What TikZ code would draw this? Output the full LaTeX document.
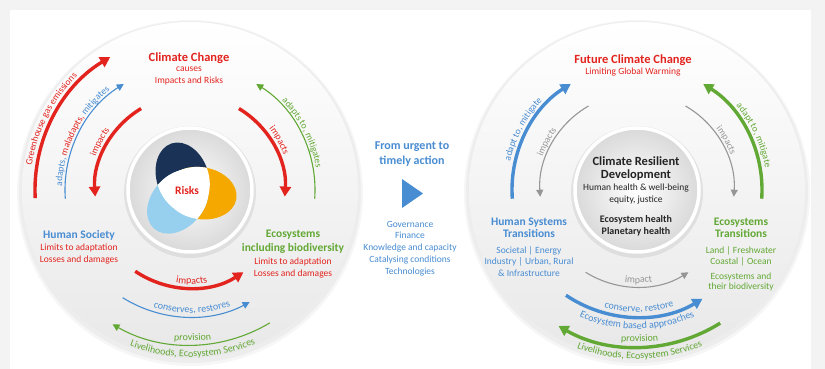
\documentclass[tikz,border=0pt]{standalone}
\usepackage{fontspec}
\setmainfont{Carlito}
\usetikzlibrary{positioning}
\usetikzlibrary{arrows.meta}
\usetikzlibrary{decorations.text}
\usetikzlibrary{shadings}

\definecolor{ipccred}{RGB}{226,35,30}
\definecolor{ipccblue}{RGB}{72,140,210}
\definecolor{ipccgreen}{RGB}{98,168,52}
\definecolor{ipccgray}{RGB}{150,150,150}
\definecolor{ipccnavy}{RGB}{26,50,86}
\definecolor{ipccorange}{RGB}{244,168,0}
\definecolor{ipccsky}{RGB}{150,208,238}
\definecolor{panelgray}{RGB}{243,243,243}
\definecolor{inktext}{RGB}{35,35,35}

\newcommand{\arcfont}{\fontsize{9.5}{9.5}\selectfont}
\newcommand{\lowfont}{\fontsize{10}{10}\selectfont}

\tikzstyle{thickarc} = [line width=3.4pt, -{Triangle[length=10pt,width=11pt]}]
\tikzstyle{thinarc} = [line width=1.1pt, -{Triangle[length=7pt,width=7pt]}]
\tikzstyle{arclabel} = [decorate, decoration={text along path, text align=center}]
\tikzstyle{bigtitle} = [font=\fontsize{12.5}{13}\selectfont\bfseries, inner sep=0pt, align=center]
\tikzstyle{sidetitle} = [font=\fontsize{11.5}{13}\selectfont\bfseries, inner sep=0pt, align=center]
\tikzstyle{smalltext} = [font=\fontsize{9.5}{11.5}\selectfont, inner sep=0pt, align=center]

\begin{document}
\begin{tikzpicture}[x=1pt, y=1pt]

  \useasboundingbox (0,0) rectangle (825,369);
  \fill[panelgray] (0,0) rectangle (825,369);
  \fill[white] (10,0) rectangle (811,359);

  \coordinate (L) at (190,179);
  \coordinate (R) at (637,179);
  \coordinate (venn) at (187,178);

  % the two big discs and their inner circles
  \foreach \name/\cx in {left/190, right/637} {
    \fill[black, opacity=0.035] (\cx,176) circle[radius=173pt];
    \fill[black, opacity=0.035] (\cx,177) circle[radius=171pt];
    \shade[top color=white, bottom color=black!9] (\cx,179) circle[radius=168pt];
    \fill[black, opacity=0.07] (\cx,177) circle[radius=66pt];
    \shade[inner color=white, outer color=black!15] (\cx,179) circle[radius=63pt];
    \draw[white, line width=3.5pt] (\cx,179) circle[radius=62pt];
  }

  % Risks
  \begin{scope}[shift={(venn)}]
    \foreach \ang/\col in {108/ipccnavy, -9/ipccorange, 229/ipccsky}
      \fill[\col, rotate=\ang] (14,0) ellipse[x radius=36pt, y radius=26pt];
    \foreach \angA/\angB in {108/-9, -9/229, 229/108} {
      \begin{scope}
        \clip[rotate=\angA] (14,0) ellipse[x radius=36pt, y radius=26pt];
        \fill[white, rotate=\angB] (14,0) ellipse[x radius=36pt, y radius=26pt];
      \end{scope}
    }
  \end{scope}
  \node[sidetitle, text=ipccred] (risks) at (venn) {Risks};

  % left disc: arcs
  \draw[thickarc, ipccred] ([shift={(183:155pt)}]L) arc[start angle=183, end angle=121, radius=155pt];
  \draw[thinarc, ipccblue] ([shift={(184:125pt)}]L) arc[start angle=184, end angle=122, radius=125pt];
  \draw[thickarc, ipccred] ([shift={(121:95pt)}]L) arc[start angle=121, end angle=184, radius=95pt];
  \draw[thickarc, ipccred] ([shift={(59:95pt)}]L) arc[start angle=59, end angle=-4, radius=95pt];
  \draw[thinarc, ipccgreen] ([shift={(-4:125pt)}]L) arc[start angle=-4, end angle=58, radius=125pt];
  \draw[thickarc, ipccred] ([shift={(236:98pt)}]L) arc[start angle=236, end angle=303, radius=98pt];
  \draw[thinarc, ipccblue] ([shift={(238:127pt)}]L) arc[start angle=238, end angle=298, radius=127pt];
  \draw[thinarc, ipccgreen] ([shift={(301:155pt)}]L) arc[start angle=301, end angle=240, radius=155pt];

  % left disc: arc labels
  \path[arclabel, decoration={text={|\arcfont|Greenhouse gas emissions}, text color=ipccred}] ([shift={(178:160pt)}]L) arc[start angle=178, end angle=128, radius=160pt];
  \path[arclabel, decoration={text={|\arcfont\color{ipccblue}|adapts, |\arcfont\color{ipccred}|maladapts, |\arcfont\color{ipccblue}|mitigates}}] ([shift={(183:128pt)}]L) arc[start angle=183, end angle=124, radius=128pt];
  \path[arclabel, decoration={text={|\arcfont|impacts}, text color=ipccred}] ([shift={(172:100pt)}]L) arc[start angle=172, end angle=132, radius=100pt];
  \path[arclabel, decoration={text={|\arcfont|impacts}, text color=ipccred}] ([shift={(46:100pt)}]L) arc[start angle=46, end angle=12, radius=100pt];
  \path[arclabel, decoration={text={|\arcfont|adapts to, mitigates}, text color=ipccgreen}] ([shift={(52:128pt)}]L) arc[start angle=52, end angle=2, radius=128pt];
  \path[arclabel, decoration={text={|\lowfont|impacts}, text color=ipccred}] ([shift={(252:94pt)}]L) arc[start angle=252, end angle=290, radius=94pt];
  \path[arclabel, decoration={text={|\lowfont|conserves, restores}, text color=ipccblue}] ([shift={(243:123pt)}]L) arc[start angle=243, end angle=299, radius=123pt];
  \path[arclabel, decoration={text={|\lowfont|provision}, text color=ipccgreen}] ([shift={(258:151pt)}]L) arc[start angle=258, end angle=284, radius=151pt];
  \path[arclabel, decoration={text={|\lowfont|Livelihoods, Ecosystem Services}, text color=ipccgreen}] ([shift={(236:167pt)}]L) arc[start angle=236, end angle=306, radius=167pt];

  % left disc: texts
  \node[bigtitle, text=ipccred] (cc) at (189,311) {Climate Change};
  \node[smalltext, text=ipccred] (ccsub) at (189,293) {causes\\Impacts and Risks};
  \node[sidetitle, text=ipccblue] (society) at (79,134) {Human Society};
  \node[smalltext, text=ipccred] (societysub) at (79,115) {Limits to adaptation\\Losses and damages};
  \node[sidetitle, text=ipccgreen, font=\fontsize{11.5}{14}\selectfont\bfseries] (eco) at (293,127) {Ecosystems\\including biodiversity};
  \node[smalltext, text=ipccred] (ecosub) at (293,101) {Limits to adaptation\\Losses and damages};

  % middle
  \node[bigtitle, text=ipccblue, font=\fontsize{12}{15}\selectfont\bfseries] (urgent) at (412,214.5) {From urgent to\\timely action};
  \fill[ipccblue] (402,190) -- (402,161) -- (423,175.5) -- cycle;
  \node[smalltext, text=ipccblue, font=\fontsize{9.5}{11.8}\selectfont] (enablers) at (410,120.5) {Governance\\Finance\\Knowledge and capacity\\Catalysing conditions\\Technologies};

  % right disc: arcs
  \draw[thickarc, ipccblue] ([shift={(184:125pt)}]R) arc[start angle=184, end angle=122, radius=125pt];
  \draw[thinarc, ipccgray] ([shift={(120:97pt)}]R) arc[start angle=120, end angle=184, radius=97pt];
  \draw[thinarc, ipccgray] ([shift={(60:97pt)}]R) arc[start angle=60, end angle=-4, radius=97pt];
  \draw[thickarc, ipccgreen] ([shift={(-4:125pt)}]R) arc[start angle=-4, end angle=58, radius=125pt];
  \draw[thinarc, ipccgray] ([shift={(238:97pt)}]R) arc[start angle=238, end angle=302, radius=97pt];
  \draw[thickarc, ipccblue] ([shift={(236:127pt)}]R) arc[start angle=236, end angle=301, radius=127pt];
  \draw[thickarc, ipccgreen] ([shift={(302:157pt)}]R) arc[start angle=302, end angle=240, radius=157pt];

  % right disc: arc labels
  \path[arclabel, decoration={text={|\arcfont|adapt to, mitigate}, text color=ipccblue}] ([shift={(172:130pt)}]R) arc[start angle=172, end angle=132, radius=130pt];
  \path[arclabel, decoration={text={|\arcfont|impacts}, text color=ipccgray}] ([shift={(170:100pt)}]R) arc[start angle=170, end angle=134, radius=100pt];
  \path[arclabel, decoration={text={|\arcfont|impacts}, text color=ipccgray}] ([shift={(46:100pt)}]R) arc[start angle=46, end angle=12, radius=100pt];
  \path[arclabel, decoration={text={|\arcfont|adapt to, mitigate}, text color=ipccgreen}] ([shift={(46:130pt)}]R) arc[start angle=46, end angle=4, radius=130pt];
  \path[arclabel, decoration={text={|\lowfont|impact}, text color=ipccgray}] ([shift={(258:93pt)}]R) arc[start angle=258, end angle=284, radius=93pt];
  \path[arclabel, decoration={text={|\lowfont|conserve, restore}, text color=ipccblue}] ([shift={(248:122pt)}]R) arc[start angle=248, end angle=294, radius=122pt];
  \path[arclabel, decoration={text={|\lowfont|Ecosystem based approaches}, text color=ipccblue}] ([shift={(236:139pt)}]R) arc[start angle=236, end angle=304, radius=139pt];
  \path[arclabel, decoration={text={|\lowfont|provision}, text color=ipccgreen}] ([shift={(258:152pt)}]R) arc[start angle=258, end angle=284, radius=152pt];
  \path[arclabel, decoration={text={|\lowfont|Livelihoods, Ecosystem Services}, text color=ipccgreen}] ([shift={(236:169pt)}]R) arc[start angle=236, end angle=306, radius=169pt];

  % right disc: texts
  \node[bigtitle, text=ipccred] (fcc) at (633,309) {Future Climate Change};
  \node[smalltext, text=ipccred] (fccsub) at (633,297) {Limiting Global Warming};
  \node[sidetitle, text=ipccblue, font=\fontsize{11.5}{12}\selectfont\bfseries] (hst) at (529,141.5) {Human Systems\\Transitions};
  \node[smalltext, text=ipccblue] (hstsub) at (529,107.5) {Societal | Energy\\Industry | Urban, Rural\\\& Infrastructure};
  \node[sidetitle, text=ipccgreen, font=\fontsize{11.5}{12}\selectfont\bfseries] (est) at (741,141) {Ecosystems\\Transitions};
  \node[smalltext, text=ipccgreen, font=\fontsize{9.5}{11}\selectfont] (estsub) at (741,112.5) {Land | Freshwater\\Coastal | Ocean};
  \node[smalltext, text=ipccgreen, font=\fontsize{9.5}{10.5}\selectfont] (estbio) at (741,87) {Ecosystems and\\their biodiversity};
  \node[bigtitle, text=inktext, font=\fontsize{12.5}{13}\selectfont\bfseries] (crd) at (636,200.5) {Climate Resilient\\Development};
  \node[smalltext, text=inktext, font=\fontsize{9.5}{12}\selectfont] (crdsub) at (636,175) {Human health \& well-being\\equity, justice};
  \node[smalltext, text=inktext, font=\fontsize{10}{12}\selectfont\bfseries] (crdhealth) at (636,143) {Ecosystem health\\Planetary health};

\end{tikzpicture}
\end{document}
